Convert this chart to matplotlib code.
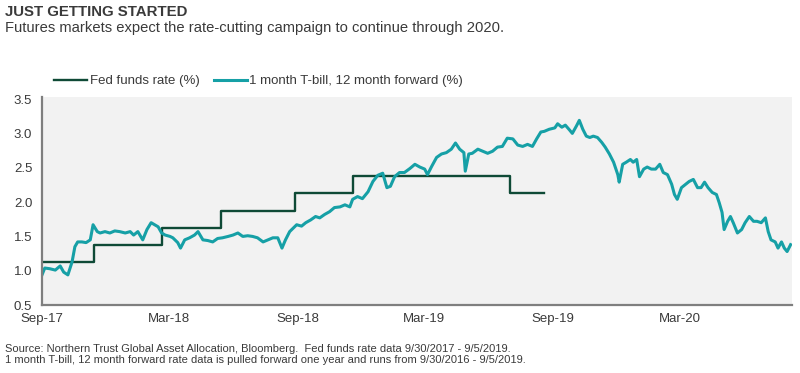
import pandas as pd
import matplotlib.pyplot as plt
import matplotlib.dates as mdates

plt.rcParams['font.family'] = ['Liberation Sans', 'DejaVu Sans']

# Fed funds rate (midpoint of target range), step changes
fed_dates = ["2017-09-30", "2017-12-13", "2018-03-21", "2018-06-13",
             "2018-09-26", "2018-12-19", "2019-07-31", "2019-09-17"]
fed_rate = [1.125, 1.375, 1.625, 1.875, 2.125, 2.375, 2.125, 2.125]

# 1 month T-bill, 12 month forward (shifted forward one year)
tbill_dates = [
    "2017-09-30", "2017-10-04", "2017-10-11", "2017-10-19", "2017-10-26", "2017-10-31",
    "2017-11-06", "2017-11-12", "2017-11-16", "2017-11-20", "2017-11-26", "2017-12-02",
    "2017-12-08", "2017-12-12", "2017-12-18", "2017-12-22", "2017-12-29", "2018-01-05",
    "2018-01-12", "2018-01-19", "2018-01-27", "2018-02-03", "2018-02-08", "2018-02-14",
    "2018-02-21", "2018-02-27", "2018-03-05", "2018-03-10", "2018-03-15", "2018-03-20",
    "2018-03-25", "2018-04-01", "2018-04-05", "2018-04-12", "2018-04-16", "2018-04-22",
    "2018-04-29", "2018-05-06", "2018-05-11", "2018-05-18", "2018-05-25", "2018-06-01",
    "2018-06-08", "2018-06-15", "2018-06-23", "2018-06-30", "2018-07-07", "2018-07-14",
    "2018-07-21", "2018-07-28", "2018-08-04", "2018-08-12", "2018-08-19", "2018-08-26",
    "2018-09-02", "2018-09-08", "2018-09-13", "2018-09-19", "2018-09-25", "2018-09-29",
    "2018-10-06", "2018-10-12", "2018-10-19", "2018-10-26", "2018-11-01", "2018-11-08",
    "2018-11-15", "2018-11-22", "2018-11-30", "2018-12-07", "2018-12-14", "2018-12-18",
    "2018-12-25", "2019-01-01", "2019-01-09", "2019-01-16", "2019-01-23", "2019-01-30",
    "2019-02-05", "2019-02-10", "2019-02-16", "2019-02-23", "2019-03-02", "2019-03-10",
    "2019-03-17", "2019-03-24", "2019-03-31", "2019-04-04", "2019-04-10", "2019-04-17",
    "2019-04-24", "2019-05-01", "2019-05-08", "2019-05-14", "2019-05-20", "2019-05-26",
    "2019-05-28", "2019-06-02", "2019-06-07", "2019-06-15", "2019-06-22", "2019-06-29",
    "2019-07-06", "2019-07-13", "2019-07-20", "2019-07-27", "2019-08-04", "2019-08-11",
    "2019-08-18", "2019-08-25", "2019-09-01", "2019-09-07", "2019-09-13", "2019-09-18",
    "2019-09-25", "2019-10-03", "2019-10-07", "2019-10-13", "2019-10-18", "2019-10-24",
    "2019-10-28", "2019-11-03", "2019-11-07", "2019-11-12", "2019-11-17", "2019-11-22",
    "2019-11-27", "2019-12-03", "2019-12-09", "2019-12-14", "2019-12-20", "2019-12-26",
    "2020-01-01", "2020-01-03", "2020-01-08", "2020-01-13", "2020-01-19", "2020-01-23",
    "2020-01-28", "2020-02-01", "2020-02-07", "2020-02-12", "2020-02-18", "2020-02-24",
    "2020-03-01", "2020-03-06", "2020-03-12", "2020-03-18", "2020-03-22", "2020-03-26",
    "2020-04-01", "2020-04-07", "2020-04-12", "2020-04-18", "2020-04-24", "2020-04-29",
    "2020-05-04", "2020-05-09", "2020-05-15", "2020-05-21", "2020-05-25", "2020-05-29",
    "2020-06-01", "2020-06-06", "2020-06-10", "2020-06-14", "2020-06-20", "2020-06-26",
    "2020-07-01", "2020-07-07", "2020-07-13", "2020-07-18", "2020-07-24", "2020-07-30",
    "2020-08-03", "2020-08-07", "2020-08-13", "2020-08-17", "2020-08-22", "2020-08-26",
    "2020-08-30", "2020-09-04",
]
tbill_rate = [
    0.94, 1.04, 1.03, 1.01, 1.07, 0.98,
    0.94, 1.13, 1.35, 1.42, 1.42, 1.41,
    1.45, 1.67, 1.57, 1.55, 1.57, 1.55,
    1.58, 1.57, 1.55, 1.57, 1.52, 1.57,
    1.45, 1.60, 1.70, 1.67, 1.64, 1.55,
    1.52, 1.50, 1.48, 1.41, 1.33, 1.45,
    1.48, 1.52, 1.57, 1.45, 1.44, 1.42,
    1.47, 1.48, 1.50, 1.52, 1.55, 1.50,
    1.51, 1.50, 1.48, 1.42, 1.45, 1.48,
    1.48, 1.33, 1.45, 1.57, 1.63, 1.67,
    1.65, 1.70, 1.74, 1.79, 1.77, 1.82,
    1.86, 1.92, 1.93, 1.96, 1.93, 2.04,
    2.08, 2.05, 2.15, 2.30, 2.39, 2.42,
    2.21, 2.23, 2.37, 2.43, 2.43, 2.49,
    2.55, 2.51, 2.48, 2.40, 2.52, 2.65,
    2.70, 2.72, 2.77, 2.86, 2.77, 2.72,
    2.45, 2.70, 2.71, 2.77, 2.74, 2.71,
    2.74, 2.80, 2.81, 2.93, 2.92, 2.83,
    2.81, 2.84, 2.81, 2.92, 3.02, 3.03,
    3.06, 3.08, 3.14, 3.09, 3.12, 3.05,
    3.00, 3.11, 3.19, 3.06, 2.96, 2.94,
    2.96, 2.94, 2.87, 2.80, 2.70, 2.58,
    2.40, 2.29, 2.55, 2.58, 2.62, 2.58,
    2.62, 2.37, 2.48, 2.51, 2.48, 2.48,
    2.55, 2.43, 2.40, 2.26, 2.11, 2.04,
    2.21, 2.26, 2.30, 2.33, 2.21, 2.21,
    2.29, 2.21, 2.14, 2.11, 1.99, 1.85,
    1.60, 1.72, 1.79, 1.70, 1.55, 1.60,
    1.70, 1.79, 1.72, 1.72, 1.70, 1.77,
    1.57, 1.45, 1.42, 1.33, 1.42, 1.33,
    1.28, 1.38,
]

tick_dates = ["2017-09-30", "2018-03-30", "2018-09-30", "2019-03-30", "2019-09-30", "2020-03-30"]
tick_labels = ["Sep-17", "Mar-18", "Sep-18", "Mar-19", "Sep-19", "Mar-20"]

fed_x = pd.to_datetime(fed_dates)
tbill_x = pd.to_datetime(tbill_dates)

dark_green = "#0f4a36"
teal = "#16a0a6"
text_color = "#3a3a3a"

fig = plt.figure(figsize=(8, 3.73), dpi=100)
ax = fig.add_axes([0.0525, 0.182, 0.9375, 0.558])
ax.set_facecolor("#f2f2f2")

ax.step(fed_x, fed_rate, where="post", color=dark_green, linewidth=1.7,
        label="Fed funds rate (%)")
ax.plot(tbill_x, tbill_rate, color=teal, linewidth=2.2,
        label="1 month T-bill, 12 month forward (%)")

ax.set_xlim(pd.Timestamp("2017-09-30"), pd.Timestamp("2020-09-06"))
ax.set_ylim(0.5, 3.53)
ax.set_yticks([0.5, 1.0, 1.5, 2.0, 2.5, 3.0, 3.5])
ax.set_yticklabels(["0.5", "1.0", "1.5", "2.0", "2.5", "3.0", "3.5"])
ax.set_xticks(pd.to_datetime(tick_dates))
ax.set_xticklabels(tick_labels)

for side in ["top", "right"]:
    ax.spines[side].set_visible(False)
for side in ["left", "bottom"]:
    ax.spines[side].set_color("#7f7f7f")
    ax.spines[side].set_linewidth(1.6)
ax.tick_params(length=0, labelsize=9.5, colors=text_color)
ax.tick_params(axis="y", pad=7)
ax.tick_params(axis="x", pad=6)

fig.legend(loc="center left", bbox_to_anchor=(0.068, 0.782), ncol=2, frameon=False,
           fontsize=9.5, handlelength=2.5, handletextpad=0.2, columnspacing=1.05,
           borderpad=0, borderaxespad=0, labelcolor=text_color)

fig.text(0.006, 0.968, "JUST GETTING STARTED", fontsize=10.8, fontweight="bold",
         color=text_color, va="center")
fig.text(0.006, 0.925, "Futures markets expect the rate-cutting campaign to continue through 2020.",
         fontsize=10.6, color=text_color, va="center")
fig.text(0.006, 0.05,
         "Source: Northern Trust Global Asset Allocation, Bloomberg.  Fed funds rate data 9/30/2017 - 9/5/2019.\n"
         "1 month T-bill, 12 month forward rate data is pulled forward one year and runs from 9/30/2016 - 9/5/2019.",
         fontsize=8.0, color=text_color, va="center", linespacing=1.15)

fig.savefig("out.png", dpi=100)
